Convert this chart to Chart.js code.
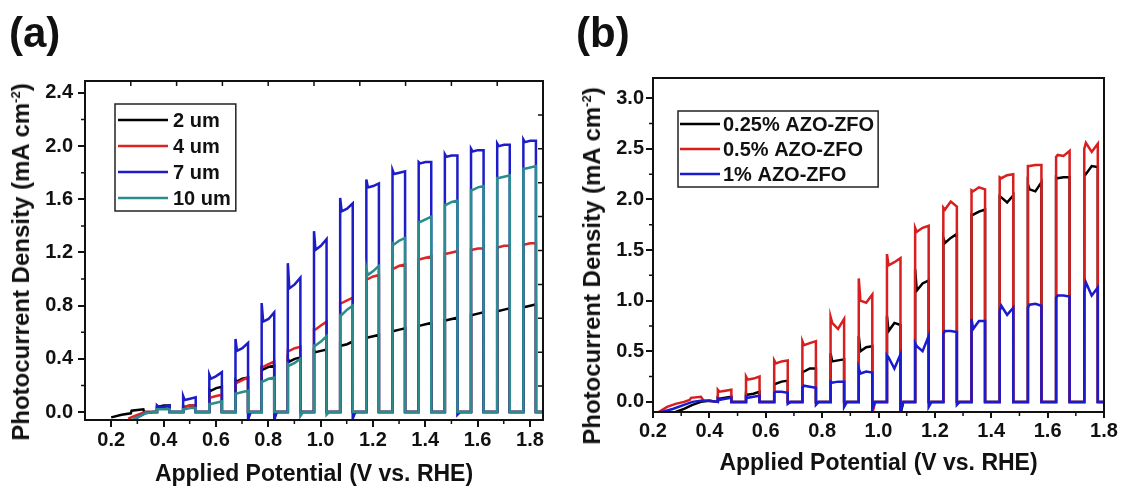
<!DOCTYPE html>
<html>
<head>
<meta charset="utf-8">
<script src="https://cdn.jsdelivr.net/npm/chart.js@4.4.1/dist/chart.umd.min.js"></script>
<style>
  body { margin: 0; background: #fff; font-family: "Liberation Sans", Arial, sans-serif; }
  #wrap { position: relative; width: 1126px; height: 490px; overflow: hidden; background: #fff; }
  canvas { position: absolute; top: 0; }
  #chartA { left: 0; }
  #chartB { left: 560px; }
  .tag { position: absolute; font-weight: bold; font-size: 42px; line-height: 42px; color: #111; }
  .ytitle { position: absolute; font-weight: bold; font-size: 24px; line-height: 28px; white-space: nowrap; color: #111;
            transform: translate(-50%, -50%) rotate(-90deg); }
  .ytitle sup { font-size: 13px; vertical-align: 9px; line-height: 0; }
</style>
</head>
<body>
<div id="wrap">
  <canvas id="chartA" width="560" height="490"></canvas>
  <canvas id="chartB" width="566" height="490"></canvas>
  <div class="tag" style="left:9px; top:12px;">(a)</div>
  <div class="tag" style="left:576px; top:12px;">(b)</div>
  <div class="ytitle" style="left:21px; top:262px;">Photocurrent Density (mA cm<sup>-2</sup>)</div>
  <div class="ytitle" style="left:592px; top:266px;">Photocurrent Density (mA cm<sup>-2</sup>)</div>
</div>
<script>
// ---- panel (a): film thickness, chopped light ----
const labelsA = ['2 um', '4 um', '7 um', '10 um'];
const colorsA = ['#000000', '#e02424', '#1c1cc8', '#2a8c8c'];
const onA = [0.375, 0.475, 0.575, 0.675, 0.775, 0.875, 0.975, 1.075, 1.175, 1.275, 1.375, 1.475, 1.575, 1.675, 1.775];
const widthA = 0.048;
const endA = 1.85;

// readings inside each light-on window: [spike, just after, middle, end]
const um2 = [[0.04,0.04,0.05,0.05],[0.04,0.04,0.05,0.05],[0.17,0.16,0.18,0.19],[0.24,0.23,0.25,0.26],[0.33,0.32,0.34,0.35],
  [0.40,0.38,0.40,0.41],[0.46,0.45,0.46,0.47],[0.51,0.50,0.51,0.53],[0.56,0.56,0.57,0.58],[0.61,0.61,0.62,0.63],
  [0.65,0.65,0.66,0.67],[0.69,0.69,0.70,0.71],[0.73,0.73,0.74,0.75],[0.76,0.76,0.77,0.78],[0.79,0.79,0.80,0.81]];
const um4 = [[0.03,0.03,0.03,0.03],[0.04,0.04,0.05,0.05],[0.11,0.11,0.12,0.13],[0.22,0.22,0.24,0.26],[0.34,0.34,0.36,0.38],
  [0.46,0.46,0.48,0.49],[0.62,0.62,0.65,0.68],[0.82,0.82,0.84,0.86],[1.00,1.00,1.02,1.03],[1.08,1.08,1.10,1.11],
  [1.15,1.15,1.16,1.17],[1.19,1.19,1.20,1.21],[1.22,1.22,1.23,1.23],[1.24,1.24,1.25,1.25],[1.26,1.26,1.27,1.27]];
const um7 = [[0.05,0.04,0.04,0.05],[0.12,0.09,0.10,0.11],[0.28,0.25,0.27,0.30],[0.55,0.46,0.48,0.52],[0.82,0.68,0.70,0.75],
  [1.12,0.93,0.96,1.01],[1.36,1.22,1.25,1.30],[1.61,1.51,1.53,1.57],[1.75,1.69,1.70,1.72],[1.82,1.79,1.80,1.81],
  [1.88,1.87,1.88,1.88],[1.94,1.92,1.93,1.93],[1.98,1.96,1.97,1.97],[2.02,2.00,2.01,2.01],[2.05,2.03,2.04,2.04]];
const um10 = [[0.02,0.02,0.02,0.02],[0.02,0.02,0.03,0.03],[0.06,0.06,0.07,0.08],[0.14,0.14,0.15,0.16],[0.23,0.23,0.25,0.26],
  [0.36,0.35,0.37,0.40],[0.50,0.50,0.53,0.57],[0.73,0.73,0.77,0.80],[1.08,1.03,1.06,1.10],[1.27,1.26,1.29,1.31],
  [1.43,1.43,1.45,1.47],[1.56,1.56,1.58,1.59],[1.67,1.67,1.69,1.70],[1.76,1.76,1.77,1.78],[1.83,1.83,1.84,1.85]];
// dark-current undershoot right after light off
const dipUm2 = [0,0,0,0,0,0,0,0,0,0,0,0,0,0,0];
const dipUm4 = [0,0,0,0,0,0,0,0,0,0,0,0,0,0,0];
const dipUm7 = [0,0,0,-0.06,-0.06,0,0,-0.05,0,0,0,-0.02,0,0,0];
const dipUm10 = [0,0,0,0,0,-0.03,-0.02,0,0,0,0,0,0,0,0];
// low-bias start of each scan
const leadUm2X = [0.20, 0.24, 0.275, 0.278, 0.30, 0.323, 0.326, 0.36];
const leadUm2Y = [-0.04, -0.02, -0.01, 0.01, 0.015, 0.02, 0.0, 0.0];
const leadUm4X = [0.265, 0.29, 0.31, 0.33, 0.36];
const leadUm4Y = [-0.05, -0.03, -0.015, 0.0, 0.0];
const leadUm7X = [0.285, 0.31, 0.33, 0.36];
const leadUm7Y = [-0.06, -0.03, -0.01, 0.0];
const leadUm10X = [0.28, 0.31, 0.33, 0.36];
const leadUm10Y = [-0.06, -0.03, -0.01, 0.0];

// ---- panel (b): AZO doping ----
const labelsB = ['0.25% AZO-ZFO', '0.5% AZO-ZFO', '1% AZO-ZFO'];
const colorsB = ['#000000', '#d81e1e', '#1a1ad0'];
const onB = [0.43, 0.53, 0.63, 0.73, 0.83, 0.93, 1.03, 1.13, 1.23, 1.33, 1.43, 1.53, 1.63, 1.73];
const widthB = 0.048;
const endB = 1.8;

const azo025 = [[0.04,0.03,0.04,0.05],[0.08,0.07,0.08,0.10],[0.18,0.18,0.20,0.21],[0.30,0.30,0.33,0.33],[0.48,0.40,0.41,0.42],
  [0.65,0.50,0.54,0.55],[0.85,0.70,0.78,0.76],[1.31,1.10,1.17,1.20],[1.62,1.57,1.62,1.66],[1.85,1.85,1.88,1.90],
  [2.03,2.02,1.97,2.04],[2.15,2.10,2.08,2.17],[2.22,2.21,2.22,2.22],[2.26,2.25,2.33,2.32]];
const azo05 = [[0.12,0.10,0.11,0.12],[0.25,0.22,0.23,0.25],[0.41,0.38,0.40,0.41],[0.60,0.56,0.58,0.60],[0.84,0.78,0.72,0.82],
  [1.22,1.00,0.98,1.06],[1.46,1.35,1.38,1.42],[1.72,1.68,1.72,1.74],[1.92,1.90,1.98,1.93],[2.09,2.08,2.12,2.10],
  [2.22,2.21,2.24,2.25],[2.33,2.33,2.34,2.34],[2.42,2.44,2.43,2.48],[2.50,2.56,2.47,2.55]];
const azo1 = [[0.03,0.02,0.03,0.04],[0.05,0.04,0.05,0.06],[0.09,0.10,0.10,0.09],[0.14,0.16,0.15,0.14],[0.20,0.19,0.20,0.20],
  [0.33,0.28,0.30,0.29],[0.46,0.44,0.33,0.47],[0.58,0.55,0.50,0.65],[0.67,0.70,0.70,0.69],[0.82,0.72,0.80,0.80],
  [0.90,0.95,0.86,0.93],[0.93,0.96,0.97,0.95],[1.03,1.05,1.05,1.04],[1.08,1.18,1.05,1.13]];
const dipAzo025 = [0,0,0,0,0,0,-0.12,0,0,0,0,0,0,0];
const dipAzo05 = [0,0,0,0,0,-0.12,0,0,0,0,0,0,0,0];
const dipAzo1 = [0,0,-0.02,-0.03,-0.05,-0.07,-0.1,-0.05,-0.03,0,0,0,0,0];
const leadAzo025X = [0.28, 0.31, 0.34, 0.37, 0.40];
const leadAzo025Y = [-0.10, -0.07, -0.03, 0.0, 0.01];
const leadAzo05X = [0.22, 0.25, 0.28, 0.31, 0.33, 0.335, 0.37, 0.38, 0.40];
const leadAzo05Y = [-0.10, -0.05, -0.02, 0.0, 0.02, 0.04, 0.05, 0.01, 0.01];
const leadAzo1X = [0.23, 0.27, 0.31, 0.34, 0.37, 0.40];
const leadAzo1Y = [-0.10, -0.07, -0.03, 0.0, 0.01, 0.01];

// where the four readings sit inside a light-on window (fraction of its width)
const pulseFrac = [0, 0.12, 0.55, 1];

function buildSeries(leadX, leadY, ons, width, levels, dips, xEnd) {
  const pts = leadX.map((x, i) => ({ x: x, y: leadY[i] }));
  ons.forEach((on, i) => {
    const off = on + width;
    pts.push({ x: on, y: 0 });
    levels[i].forEach((v, j) => pts.push({ x: on + width * pulseFrac[j], y: v }));
    pts.push({ x: off, y: dips[i] });
    pts.push({ x: off + 0.01, y: 0 });
  });
  pts.push({ x: xEnd, y: 0 });
  return pts;
}

Chart.defaults.font.family = '"Liberation Sans", Arial, sans-serif';
Chart.defaults.color = '#111';

// frame round the plot, minor ticks, and the inward ticks of panel (a)
const frameTicks = {
  id: 'frameTicks',
  afterDraw(chart, args, o) {
    const { ctx, chartArea: a, scales } = chart;
    ctx.save();
    ctx.strokeStyle = '#111';
    ctx.lineWidth = 2;
    ctx.strokeRect(a.left, a.top, a.right - a.left, a.bottom - a.top);
    ctx.lineWidth = 1.5;
    ctx.beginPath();
    ['x', 'y'].forEach(id => {
      const s = scales[id];
      const vals = s.ticks.map(t => t.value);
      const step = vals[1] - vals[0];
      const minors = [vals[0] - step / 2];
      vals.forEach(v => minors.push(v + step / 2));
      minors.filter(v => v > s.min && v < s.max).forEach(v => {
        const p = s.getPixelForValue(v);
        if (id === 'x') { ctx.moveTo(p, a.bottom); ctx.lineTo(p, a.bottom + o.minorLen); }
        else { ctx.moveTo(a.left, p); ctx.lineTo(a.left - o.minorLen, p); }
      });
    });
    if (o.innerTicks) {
      const w = a.right - a.left, h = a.bottom - a.top;
      for (let k = 1; k < 10; k++) {
        const px = a.left + w * k / 10, py = a.top + h * k / 10;
        ctx.moveTo(px, a.top); ctx.lineTo(px, a.top + 5);
        ctx.moveTo(a.right, py); ctx.lineTo(a.right - 5, py);
      }
    }
    ctx.stroke();
    ctx.restore();
  }
};

// boxed legend inside the plot area
const boxLegend = {
  id: 'boxLegend',
  afterDraw(chart, args, o) {
    const { ctx, chartArea: a } = chart;
    const sets = chart.data.datasets;
    ctx.save();
    ctx.font = 'bold 20px "Liberation Sans", Arial, sans-serif';
    const textW = Math.max(...sets.map(d => ctx.measureText(d.label).width));
    const x0 = a.left + o.dx, y0 = a.top + o.dy;
    const w = o.pad + o.lineLen + o.gap + textW + o.padRight;
    const h = o.padTop + sets.length * o.rowH + o.padBottom;
    ctx.fillStyle = '#fff';
    ctx.fillRect(x0, y0, w, h);
    ctx.strokeStyle = '#222';
    ctx.lineWidth = 1.5;
    ctx.strokeRect(x0, y0, w, h);
    sets.forEach((d, i) => {
      const cy = y0 + o.padTop + o.rowH * (i + 0.5);
      ctx.strokeStyle = d.borderColor;
      ctx.lineWidth = 2.5;
      ctx.beginPath();
      ctx.moveTo(x0 + o.pad, cy);
      ctx.lineTo(x0 + o.pad + o.lineLen, cy);
      ctx.stroke();
      ctx.fillStyle = '#111';
      ctx.textBaseline = 'middle';
      ctx.fillText(d.label, x0 + o.pad + o.lineLen + o.gap, cy + 1);
    });
    ctx.restore();
  }
};

function makeDatasets(labels, colors, series, order) {
  return series.map((pts, i) => ({
    label: labels[i],
    data: pts,
    borderColor: colors[i],
    backgroundColor: colors[i],
    borderWidth: 2.5,
    pointRadius: 0,
    tension: 0,
    fill: false,
    order: order[i]
  }));
}

function panelOptions(p) {
  return {
    responsive: false,
    animation: false,
    events: [],
    layout: { padding: { left: 0, top: p.top, right: p.right, bottom: 0 } },
    plugins: {
      legend: { display: false },
      tooltip: { enabled: false },
      boxLegend: p.legend,
      frameTicks: { minorLen: 4, innerTicks: p.innerTicks }
    },
    scales: {
      x: {
        type: 'linear', min: p.xMin, max: p.xMax,
        afterFit: s => { s.height = p.xHeight; },
        ticks: { stepSize: 0.2, includeBounds: false, autoSkip: false, maxRotation: 0, padding: p.xTickPad,
                 font: { size: 20, weight: 'bold' }, color: '#111', callback: v => v.toFixed(1) },
        grid: { drawOnChartArea: false, tickLength: p.tickLen, lineWidth: 2, color: '#111' },
        border: { display: false },
        title: { display: true, text: 'Applied Potential (V vs. RHE)', color: '#111',
                 font: { size: 23, weight: 'bold' }, padding: { top: 0, bottom: p.xTitlePad } }
      },
      y: {
        type: 'linear', min: p.yMin, max: p.yMax,
        afterFit: s => { s.width = p.yWidth; },
        ticks: { stepSize: p.yStep, includeBounds: false, autoSkip: false, padding: p.yTickPad,
                 font: { size: 20, weight: 'bold' }, color: '#111', callback: v => v.toFixed(1) },
        grid: { drawOnChartArea: false, tickLength: 7, lineWidth: 2, color: '#111' },
        border: { display: false }
      }
    }
  };
}

new Chart(document.getElementById('chartA'), {
  type: 'line',
  data: {
    datasets: makeDatasets(labelsA, colorsA, [
      buildSeries(leadUm2X, leadUm2Y, onA, widthA, um2, dipUm2, endA),
      buildSeries(leadUm4X, leadUm4Y, onA, widthA, um4, dipUm4, endA),
      buildSeries(leadUm7X, leadUm7Y, onA, widthA, um7, dipUm7, endA),
      buildSeries(leadUm10X, leadUm10Y, onA, widthA, um10, dipUm10, endA)
    ], [4, 3, 2, 1])
  },
  options: panelOptions({
    top: 81, right: 17, xHeight: 70, yWidth: 85,
    xMin: 0.1, xMax: 1.85, yMin: -0.06, yMax: 2.49, yStep: 0.4,
    tickLen: 7, xTickPad: 1, yTickPad: 5, xTitlePad: 2, innerTicks: true,
    legend: { dx: 30, dy: 23, pad: 3, lineLen: 50, gap: 5, padRight: 5, padTop: 3, padBottom: 0, rowH: 26 }
  }),
  plugins: [frameTicks, boxLegend]
});

new Chart(document.getElementById('chartB'), {
  type: 'line',
  data: {
    datasets: makeDatasets(labelsB, colorsB, [
      buildSeries(leadAzo025X, leadAzo025Y, onB, widthB, azo025, dipAzo025, endB),
      buildSeries(leadAzo05X, leadAzo05Y, onB, widthB, azo05, dipAzo05, endB),
      buildSeries(leadAzo1X, leadAzo1Y, onB, widthB, azo1, dipAzo1, endB)
    ], [3, 2, 1])
  },
  options: panelOptions({
    top: 78, right: 22, xHeight: 78, yWidth: 93,
    xMin: 0.2, xMax: 1.8, yMin: -0.1, yMax: 3.2, yStep: 0.5,
    tickLen: 6, xTickPad: 1, yTickPad: 2, xTitlePad: 13, innerTicks: false,
    legend: { dx: 25, dy: 33, pad: 2, lineLen: 40, gap: 3, padRight: 4, padTop: 0.5, padBottom: 0.5, rowH: 25 }
  }),
  plugins: [frameTicks, boxLegend]
});
</script>
</body>
</html>
